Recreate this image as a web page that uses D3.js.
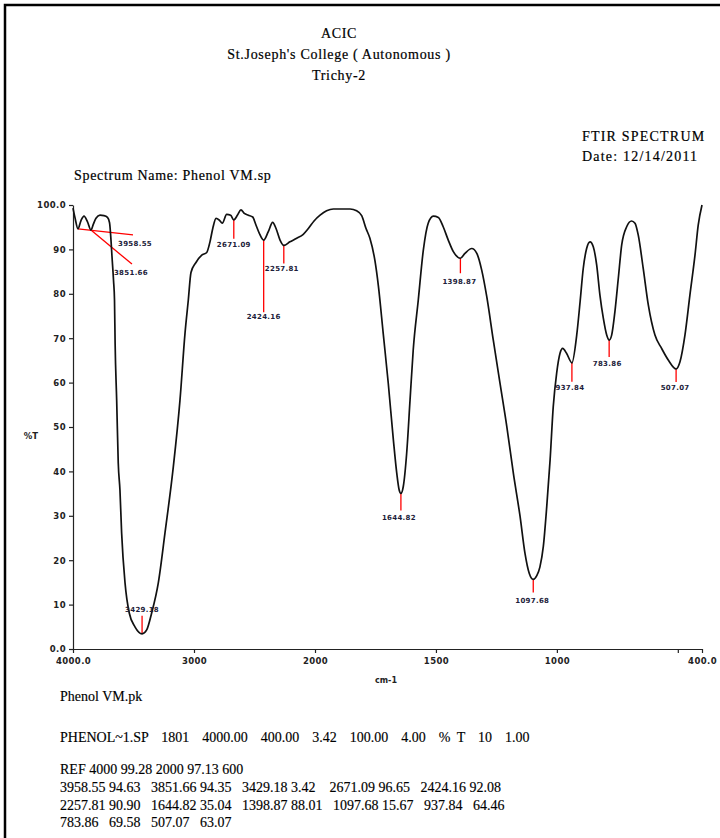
<!DOCTYPE html>
<html><head><meta charset="utf-8">
<script src="https://cdn.jsdelivr.net/npm/d3@7"></script>
<style>
body{margin:0;background:#fff}
svg text{white-space:pre}
</style>
</head><body><svg id="c" width="720" height="838"></svg>
<script>
// ---------- DATA ----------
const wavenumbers = [4000,3984,3958.55,3934,3909,3880,3851.66,3830,3810,3777,3744,3715,3698,3686,3678,3665,3657,3652,3639,3626,3612,3598,3570,3535,3488,3429.18,3391,3350,3295,3240,3171,3116,3074,3047,3025,2985,2936,2895,2868,2845,2818,2791,2766,2730,2697,2671.09,2639,2612,2584,2551,2515,2488,2460,2424.16,2386,2350,2322,2289,2257.81,2207,2151,2097,2055,2008,1979,1952,1924,1855,1828,1807,1789,1773,1752,1738,1718,1697,1676,1662,1652,1644.82,1635,1621,1607,1594,1573,1552,1532,1511,1490,1470,1449,1428,1398.87,1380,1352,1331,1311,1290,1263,1235,1207,1180,1152,1132,1114,1097.68,1083,1070,1056,1042,1028,1015,1001,987,976,960,937.84,918,904,891,877,863,849.5,835.5,822,808,794,783.86,773.5,760,746,732,711.5,691,677,663.5,643,622,594.5,567,539.5,507.07,491,470.5,450,429,415.5,400];
const transmittance = [99.3,97.2,94.63,96.5,97.5,96.2,94.35,95.8,97.0,97.7,97.6,97.2,96.0,92.1,88.5,83,78.6,68.9,56,41.9,35.8,26.1,14.9,8.1,5.0,3.42,4.3,8.1,14.9,26.1,41,56,71.2,78.6,84.8,87,88.7,89.3,91.7,94.7,97.0,96.6,95.9,97.9,97.7,96.65,97.8,98.9,98.1,97.7,97.3,95.5,93.6,92.08,94,96.1,94.7,92.1,90.90,91.7,92.5,93.4,94.7,96.4,97.7,98.7,99.1,99.1,98.7,97.6,94.7,92.5,87.4,81.8,71.1,59.8,47.1,39.6,35.8,35.04,36.6,44.1,56.1,67.3,78.6,89.9,95.9,97.5,97.2,95.1,92.1,89.5,88.01,89.1,90.2,89.1,85.4,79.4,69.6,59.8,50.1,39.6,29.8,21.6,17.0,15.67,16.5,18.5,23.1,32,42.6,54.6,62.1,66.6,67.7,66.6,64.46,70.7,78.2,85.7,90.2,91.7,90.6,86.5,79.7,74.5,70.7,69.58,70.7,76,83.5,91,95.1,96.4,95.9,93.2,85.7,77.5,70.7,67.7,65.1,63.07,64.7,70.7,79.7,88.7,95.5,100];

const peakWn = [3958.55,3851.66,3429.18,2671.09,2424.16,2257.81,1644.82,1398.87,1097.68,937.84,783.86,507.07];
const peakT  = [94.63,94.35,3.42,96.65,92.08,90.90,35.04,88.01,15.67,64.46,69.58,63.07];
const peakLabels = ["3958.55","3851.66","3429.18","2671.09","2424.16","2257.81","1644.82","1398.87","1097.68","937.84","783.86","507.07"];

const yTicks = [0,10,20,30,40,50,60,70,80,90,100];
const yTickLabels = ["0.0","10","20","30","40","50","60","70","80","90","100.0"];
const xTicks = [4000,3000,2000,1500,1000,500,400];
const xTickLabels = ["4000.0","3000","2000","1500","1000","","400.0"];

const headerLines = ["ACIC","St.Joseph's College ( Autonomous )","Trichy-2"];
const infoLines = ["FTIR SPECTRUM","Date: 12/14/2011"];
const spectrumName = "Spectrum Name: Phenol VM.sp";
const footerLines = [
  "Phenol VM.pk",
  "PHENOL~1.SP  1801  4000.00  400.00  3.42  100.00  4.00  % T  10  1.00",
  "REF 4000 99.28 2000 97.13 600",
  "3958.55 94.63   3851.66 94.35   3429.18 3.42    2671.09 96.65   2424.16 92.08",
  "2257.81 90.90   1644.82 35.04   1398.87 88.01   1097.68 15.67   937.84   64.46",
  "783.86   69.58   507.07   63.07"
];

// ---------- LAYOUT / STYLE ----------
const L = {left:73, bottom:649, top:205, xBreak:315, right:702};
// label placement per peak: [line end dx, line end dy, text dx, text dy]
const labelStyle = {
  "3958.55":[55,6,57,17], "3851.66":[41,34,40,45], "3429.18":[0,-18,0,-22],
  "2671.09":[0,19,0,27], "2424.16":[0,72,0,79], "2257.81":[0,18,-2,26],
  "1644.82":[0,17,-2,27], "1398.87":[0,15,-1,26], "1097.68":[0,13,-1,24],
  "937.84":[0,19,-2,27], "783.86":[0,17,-2,26], "507.07":[0,13,-1,21]
};
const footY = [701,742,774,792,810,827];
const footWordSpacing = [0,3,0,0,0,0];

const svg = d3.select("#c");
svg.append("rect").attr("x",0).attr("y",0).attr("width",720).attr("height",838).attr("fill","#fff");
// frame
svg.append("path").attr("d","M5,845 L5,5 L725,5").attr("fill","none").attr("stroke","#000").attr("stroke-width",2.5);

const x = d3.scaleLinear().domain([4000,2000,400]).range([L.left,L.xBreak,L.right]);
const y = d3.scaleLinear().domain([0,100]).range([L.bottom,L.top]);

const serif = "'Liberation Serif','Times New Roman',serif";
const sans = "'DejaVu Sans',Verdana,sans-serif";

// header
svg.selectAll("text.hdr").data(headerLines).join("text").attr("class","hdr")
  .attr("x",339).attr("y",(d,i)=>38+i*21).attr("text-anchor","middle")
  .attr("font-family",serif).attr("font-size",14).attr("letter-spacing",0.7).attr("fill","#000")
  .attr("stroke","#000").attr("stroke-width",0.2).text(d=>d);
svg.selectAll("text.info").data(infoLines).join("text").attr("class","info")
  .attr("x",582).attr("y",(d,i)=>141+i*20)
  .attr("font-family",serif).attr("font-size",14).attr("letter-spacing",1.2).attr("fill","#000")
  .attr("stroke","#000").attr("stroke-width",0.2).text(d=>d);
svg.append("text").attr("x",74).attr("y",180).attr("font-family",serif).attr("font-size",14)
  .attr("letter-spacing",0.7).attr("fill","#000").attr("stroke","#000").attr("stroke-width",0.2).text(spectrumName);

// axes
const g = svg.append("g");
const yAxis = d3.axisLeft(y).tickValues(yTicks).tickSize(4).tickSizeOuter(0)
  .tickFormat((d,i)=>yTickLabels[i]);
const yg = g.append("g").attr("transform",`translate(${L.left},0)`).call(yAxis);
const xAxis = d3.axisBottom(x).tickValues(xTicks).tickSize(4).tickSizeOuter(0)
  .tickFormat((d,i)=>xTickLabels[i]);
const xg = g.append("g").attr("transform",`translate(0,${L.bottom})`).call(xAxis);
[yg,xg].forEach(a=>{
  a.select(".domain").attr("stroke","#222").attr("stroke-width",1.2);
  a.selectAll(".tick line").attr("stroke","#222").attr("stroke-width",1.2);
  a.selectAll(".tick text").attr("font-family",sans).attr("font-size",8.5).attr("font-weight","bold")
    .attr("fill","#222").attr("letter-spacing",0.4);
});
yg.selectAll(".tick text").attr("x",-7).attr("dy","0.35em");
xg.selectAll(".tick text").attr("y",9);

svg.append("text").attr("x",31).attr("y",439).attr("text-anchor","middle").attr("font-family",sans)
  .attr("font-size",8.5).attr("font-weight","bold").attr("fill","#222").text("%T");
svg.append("text").attr("x",386).attr("y",683).attr("text-anchor","middle").attr("font-family",sans)
  .attr("font-size",8).attr("font-weight","bold").attr("fill","#222").text("cm-1");

// peak markers
const peaks = peakWn.map((w,i)=>({w,t:peakT[i],lab:peakLabels[i]}));
svg.selectAll("line.pk").data(peaks).join("line").attr("class","pk")
  .attr("x1",d=>x(d.w)).attr("y1",d=>y(d.t))
  .attr("x2",d=>x(d.w)+labelStyle[d.lab][0]).attr("y2",d=>y(d.t)+labelStyle[d.lab][1])
  .attr("stroke","#f00").attr("stroke-width",1.3);

// spectrum
const pts = wavenumbers.map((w,i)=>[w,transmittance[i]]);
svg.append("path").datum(pts)
  .attr("d",d3.line().x(d=>x(d[0])).y(d=>y(d[1])).curve(d3.curveMonotoneX))
  .attr("fill","none").attr("stroke","#111").attr("stroke-width",1.7).attr("stroke-linejoin","round");

svg.selectAll("text.pkl").data(peaks).join("text").attr("class","pkl")
  .attr("x",d=>x(d.w)+labelStyle[d.lab][2]).attr("y",d=>y(d.t)+labelStyle[d.lab][3])
  .attr("text-anchor","middle").attr("font-family",sans).attr("font-size",7).attr("font-weight","bold")
  .attr("letter-spacing",0.3).attr("fill","#1c1c3a").text(d=>d.lab);

// footer
svg.selectAll("text.ft").data(footerLines).join("text").attr("class","ft")
  .attr("x",60).attr("y",(d,i)=>footY[i]).attr("word-spacing",(d,i)=>footWordSpacing[i])
  .attr("font-family",serif).attr("font-size",14).attr("fill","#000")
  .attr("stroke","#000").attr("stroke-width",0.15).text(d=>d);
</script>
</body></html>
